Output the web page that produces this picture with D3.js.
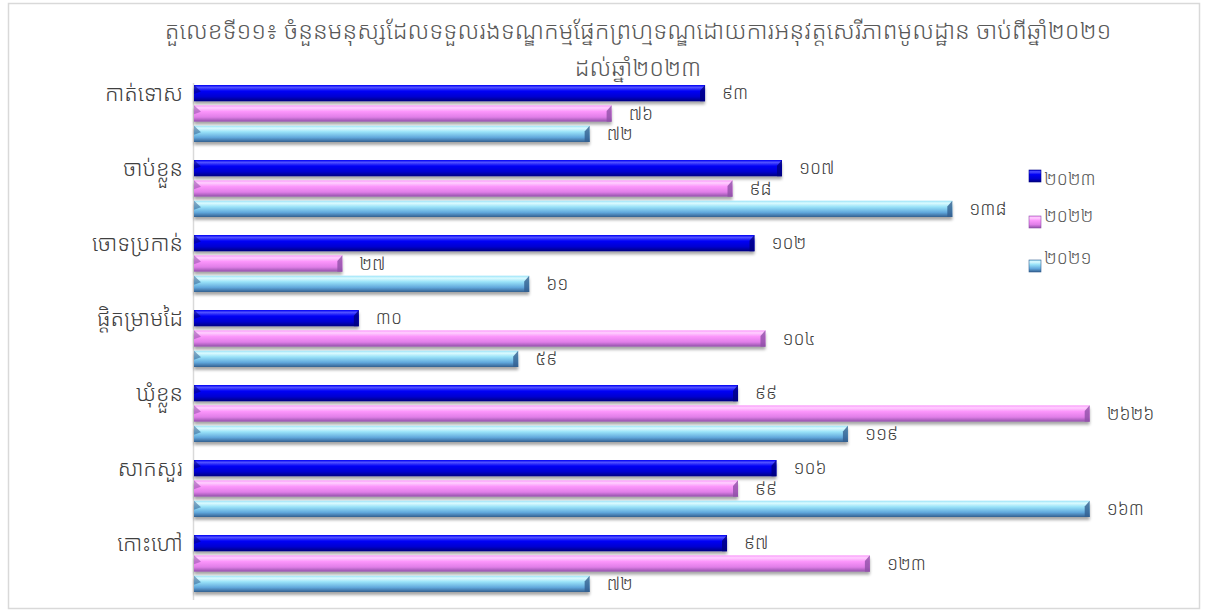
<!DOCTYPE html>
<html><head><meta charset="utf-8">
<script src="https://cdn.jsdelivr.net/npm/d3@7"></script>
<style>
html,body{margin:0;padding:0;background:#fff;}
text{font-family:"Khmer OS","Khmer OS System","Noto Sans Khmer","Noto Serif Khmer","Noto Sans","DejaVu Sans",sans-serif;font-weight:300;}
</style></head>
<body><svg id="c" width="1208" height="612"></svg>
<script>
const categories = ["កាត់ទោស","ចាប់ខ្លួន","ចោទប្រកាន់","ផ្តិតម្រាមដៃ","ឃុំខ្លួន","សាកសួរ","កោះហៅ"];
const seriesNames = ["២០២៣","២០២២","២០២១"];
const values2023 = [93,107,102,30,99,106,97];
const values2022 = [76,98,27,104,2626,99,123];
const values2021 = [72,138,61,59,119,163,72];
const toKhmer = n => String(n).replace(/[0-9]/g, d => "០១២៣៤៥៦៧៨៩"[+d]);
const titleLines = ["តួលេខទី១១៖ ចំនួនមនុស្សដែលទទួលរងទណ្ឌកម្មផ្នែកព្រហ្មទណ្ឌដោយការអនុវត្តសេរីភាពមូលដ្ឋាន ចាប់ពីឆ្នាំ២០២១","ដល់ឆ្នាំ២០២៣"];

const series = [
  {name:seriesNames[0], values:values2023, c:["#5050ff","#0000f5","#0000d0","#000080"]},
  {name:seriesNames[1], values:values2022, c:["#ffd0ff","#fb95fb","#e07ee8","#9050a8"]},
  {name:seriesNames[2], values:values2021, c:["#dcfbff","#98e2f8","#62a8dc","#335f90"]}
];

const svg = d3.select("#c");
const defs = svg.append("defs");
series.forEach((s,i)=>{
  const g = defs.append("linearGradient").attr("id","g"+i).attr("x1",0).attr("y1",0).attr("x2",0).attr("y2",1);
  g.append("stop").attr("offset","0%").attr("stop-color",s.c[1]);
  g.append("stop").attr("offset","15%").attr("stop-color",s.c[0]);
  g.append("stop").attr("offset","38%").attr("stop-color",s.c[1]);
  g.append("stop").attr("offset","72%").attr("stop-color",s.c[2]);
  g.append("stop").attr("offset","100%").attr("stop-color",s.c[3]);
});
const f = defs.append("filter").attr("id","sh").attr("x","-5%").attr("y","-30%").attr("width","110%").attr("height","180%");
f.append("feGaussianBlur").attr("in","SourceAlpha").attr("stdDeviation",1.5);
f.append("feOffset").attr("dx",0).attr("dy",3).attr("result","b");
f.append("feComponentTransfer").append("feFuncA").attr("type","linear").attr("slope",0.35);
const m = f.append("feMerge"); m.append("feMergeNode"); m.append("feMergeNode").attr("in","SourceGraphic");

svg.append("rect").attr("x",8.5).attr("y",3.5).attr("width",1191).attr("height",605)
  .attr("fill","#fff").attr("stroke","#d9d9d9").attr("stroke-width",1.5);

svg.selectAll("text.title").data(titleLines).enter().append("text").attr("class","title")
  .attr("x",638).attr("y",(d,i)=>39+i*37).attr("text-anchor","middle")
  .attr("font-size",24).attr("fill","#595959").text(d=>d);

const x = d3.scaleLinear().domain([0,163]).range([194,1089.7]).clamp(true);
const y = d3.scaleBand().domain(categories).range([85,592]).paddingInner(0.24).paddingOuter(0);
const y1 = d3.scaleBand().domain([0,1,2]).range([0,y.bandwidth()]).paddingInner(0.2);

svg.append("line").attr("x1",193.5).attr("x2",193.5).attr("y1",83).attr("y2",600).attr("stroke","#d9d9d9").attr("stroke-width",1.5);

const gr = svg.selectAll("g.cat").data(categories).enter().append("g").attr("class","cat")
  .attr("transform",d=>`translate(0,${y(d)})`);

series.forEach((s,i)=>{
  gr.append("rect").attr("x",x(0)).attr("y",y1(i)).attr("height",y1.bandwidth())
    .attr("width",(d,j)=>x(s.values[j])-x(0)).attr("fill",`url(#g${i})`).attr("filter","url(#sh)");
  gr.append("path").attr("d",()=>{const t=y1(i),h=y1.bandwidth(),x0=x(0);return `M${x0},${t}L${x0+7},${t+h*0.4}L${x0},${t+h*0.55}Z`;})
    .attr("fill",s.c[3]).attr("opacity",0.55);
  gr.append("path").attr("d",(d,j)=>{const t=y1(i),h=y1.bandwidth(),xe=x(s.values[j]);return `M${xe},${t}L${xe},${t+h}L${xe-5},${t+h}L${xe-5},${t+h*0.35}Z`;})
    .attr("fill",s.c[3]).attr("opacity",0.8);
  gr.append("text").attr("x",(d,j)=>x(s.values[j])+17).attr("y",y1(i)+y1.bandwidth()/2+6)
    .attr("font-size",18).attr("fill","#404040").text((d,j)=>toKhmer(s.values[j]));
});

svg.selectAll("text.cat").data(categories).enter().append("text").attr("class","cat")
  .attr("x",183).attr("y",d=>y(d)+y1.bandwidth()/2+8).attr("text-anchor","end")
  .attr("font-size",22).attr("fill","#404040").text(d=>d);

const legY = [176,222,266];
const legTextY = [185,222,264];
const lg = svg.selectAll("g.leg").data(series).enter().append("g").attr("class","leg");
lg.append("rect").attr("x",1029).attr("y",(d,i)=>legY[i]-6).attr("width",12).attr("height",12)
  .attr("fill",(d,i)=>`url(#g${i})`).attr("stroke",d=>d.c[3]).attr("stroke-width",0.6);
lg.append("text").attr("x",1044).attr("y",(d,i)=>legTextY[i])
  .attr("font-size",18).attr("fill","#595959").text(d=>d.name);
</script></body></html>
